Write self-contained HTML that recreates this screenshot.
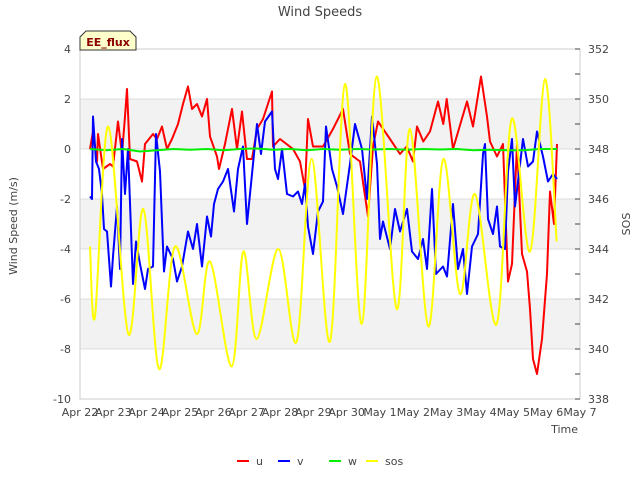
<!DOCTYPE html>
<html><head><meta charset="utf-8"><style>
body{margin:0;background:#fff;font-family:"Liberation Sans","DejaVu Sans",sans-serif;}
svg text{font-family:"DejaVu Sans","Liberation Sans",sans-serif;}
</style></head><body>
<svg id="chart" width="640" height="480" viewBox="0 0 640 480">
<rect x="0" y="0" width="640" height="480" fill="#fff"/>
<g id="bands"></g>
<g id="grid"></g>
<rect x="80" y="49" width="500" height="350" fill="none" stroke="#ccc" stroke-width="1"/>
<g id="axes"></g>
<g id="series"></g>
<text x="320" y="16" text-anchor="middle" font-size="13" fill="#444">Wind Speeds</text>
<text x="17" y="226" text-anchor="middle" font-size="11" fill="#444" transform="rotate(-90 17 226)">Wind Speed (m/s)</text>
<text x="630" y="224" text-anchor="middle" font-size="11" fill="#444" transform="rotate(-90 630 224)">SOS</text>
<text x="578" y="433" text-anchor="end" font-size="11" fill="#444">Time</text>
<g>
<path d="M80,50 L80,37 L86,31 L130,31 L136,37 L136,50 Z" fill="#ffffcc" stroke="#333" stroke-width="1"/>
<text x="108" y="46" text-anchor="middle" font-size="11" font-weight="bold" fill="#8b0000">EE_flux</text>
</g>
<g id="legend"></g>
</svg>
<script>
const NS="http://www.w3.org/2000/svg";
const svg=document.getElementById('chart');
// ---- data ----
const xTickLabels=["Apr 22","Apr 23","Apr 24","Apr 25","Apr 26","Apr 27","Apr 28","Apr 29","Apr 30","May 1","May 2","May 3","May 4","May 5","May 6","May 7"];
const yTicks=[4,2,0,-2,-4,-6,-8,-10];
const y2Ticks=[352,350,348,346,344,342,340,338];
const uT=[0.3,0.39,0.51,0.54,0.69,0.9,0.99,1.14,1.26,1.35,1.41,1.5,1.71,1.86,1.95,2.19,2.31,2.46,2.61,2.76,2.94,3.09,3.24,3.36,3.51,3.66,3.81,3.9,4.11,4.17,4.35,4.56,4.71,4.86,5.01,5.16,5.31,5.49,5.76,5.79,6.0,6.39,6.6,6.75,6.84,6.99,7.29,7.59,7.89,8.1,8.4,8.64,8.79,8.94,9.3,9.6,9.8,9.99,10.11,10.3,10.5,10.74,10.9,11.0,11.19,11.61,11.79,12.03,12.21,12.3,12.51,12.69,12.84,12.96,13.11,13.26,13.41,13.5,13.59,13.71,13.86,14.01,14.1,14.22,14.31];
const uV=[0,0.7,-0.5,0.6,-0.8,-0.6,-0.7,1.1,-0.2,1.3,2.4,-0.4,-0.5,-1.3,0.2,0.6,0.4,0.9,0,0.4,1.0,1.8,2.5,1.6,1.8,1.3,2.0,0.5,-0.3,-0.8,0.2,1.6,0,1.5,-0.4,-0.4,0.8,1.2,2.3,0.1,0.4,0,-0.5,-1.6,1.2,0.1,0.1,0.8,1.6,-0.2,-0.5,-2.7,0.1,1.1,0.4,-0.2,0.1,-0.5,0.9,0.3,0.7,1.9,1.0,2.0,0,1.9,0.9,2.9,1.3,0.3,-0.3,0.2,-5.3,-4.6,0.2,-4.2,-4.9,-6.4,-8.4,-9.0,-7.6,-5.0,-1.7,-3.0,0.2];
const vT=[0.3,0.36,0.39,0.48,0.57,0.66,0.72,0.81,0.93,0.99,1.11,1.2,1.26,1.35,1.44,1.59,1.68,1.8,1.95,2.04,2.19,2.28,2.4,2.52,2.61,2.79,2.91,3.06,3.24,3.39,3.51,3.66,3.81,3.93,4.02,4.14,4.29,4.44,4.62,4.74,4.89,5.01,5.13,5.31,5.43,5.55,5.76,5.85,5.94,6.06,6.21,6.39,6.54,6.66,6.75,6.84,6.99,7.14,7.29,7.38,7.56,7.71,7.89,8.1,8.25,8.46,8.61,8.76,8.91,9.0,9.09,9.3,9.45,9.6,9.81,9.96,10.14,10.29,10.41,10.56,10.68,10.89,11.01,11.19,11.34,11.49,11.61,11.76,11.94,12.09,12.15,12.24,12.39,12.51,12.6,12.75,12.84,12.96,13.05,13.14,13.29,13.44,13.59,13.71,13.89,14.04,14.19,14.31];
const vV=[-1.9,-2.0,1.3,-0.5,-0.8,-1.8,-3.2,-3.3,-5.5,-4.3,-2.3,-4.8,0.4,-1.8,0,-5.4,-3.7,-4.6,-5.6,-4.8,-4.7,0.6,-0.9,-4.9,-3.9,-4.4,-5.3,-4.7,-3.3,-4.0,-3.0,-4.7,-2.7,-3.5,-2.2,-1.6,-1.3,-0.8,-2.5,-0.8,0.1,-3.0,-1.4,1.0,-0.2,1.1,1.5,-0.8,-1.2,0,-1.8,-1.9,-1.7,-2.2,-1.4,-3.1,-4.2,-2.5,-2.1,0.9,-0.8,-1.5,-2.6,-0.6,1.0,0,-2.0,1.3,-0.6,-3.6,-2.9,-4.0,-2.4,-3.3,-2.4,-4.1,-4.4,-3.6,-4.8,-1.6,-5.0,-4.7,-5.1,-2.2,-4.8,-4.0,-5.8,-3.9,-3.4,-0.2,0.2,-2.8,-3.4,-2.3,-3.9,-4.0,-0.9,0.4,-2.3,-1.3,0.4,-0.7,-0.5,0.7,-0.3,-1.3,-1.0,-1.2];
const wT=[0.3,0.8,1.3,1.8,2.3,2.8,3.3,3.8,4.3,4.8,5.3,5.8,6.3,6.8,7.3,7.8,8.3,8.8,9.3,9.8,10.3,10.8,11.3,11.8,12.3,12.8,13.3,13.8,14.31];
const wV=[0.0,-0.05,0.0,-0.1,-0.05,0.0,-0.03,0.0,-0.05,0.0,0.02,-0.03,0.0,-0.05,0.0,-0.03,0.0,-0.02,0.0,-0.03,0.0,-0.02,0.0,-0.05,-0.03,-0.05,-0.05,0.0,0.0];
const sosT=[0.3,0.45,0.85,1.45,1.9,2.37,2.85,3.5,3.9,4.55,4.9,5.3,5.95,6.5,6.95,7.5,7.95,8.45,8.9,9.5,9.9,10.45,10.9,11.4,11.85,12.5,12.95,13.5,13.95,14.3];
const sosV=[344.1,341.3,348.9,340.6,345.6,339.2,344.1,340.6,343.5,339.3,343.9,340.4,344.0,340.3,347.6,340.3,350.6,341.0,350.9,341.6,348.8,340.9,347.6,342.2,346.2,341.0,349.2,343.9,350.8,344.3];
// ---- scales ----
const X0=80,PW=500,Y0=49,PH=350;
const xs=d=>X0+d*PW/15;
const ys=v=>Y0+(4-v)*PH/14;
const ys2=v=>Y0+(352-v)*PH/14;
function el(tag,attrs,parent){const e=document.createElementNS(NS,tag);for(const k in attrs)e.setAttribute(k,attrs[k]);parent.appendChild(e);return e;}
// bands & grid
const bands=document.getElementById('bands'),grid=document.getElementById('grid'),axes=document.getElementById('axes');
[[2,0],[-2,-4],[-6,-8]].forEach(b=>{
 const r=el('rect',{x:X0,y:ys(b[0]),width:PW,height:ys(b[1])-ys(b[0]),fill:'#f2f2f2'},bands);
 
 
});
yTicks.forEach(v=>{
 const l=el('line',{x1:X0,x2:X0+PW,y1:ys(v),y2:ys(v),stroke:'#dcdcdc','stroke-width':1},grid);
 
 
 const t=el('text',{x:X0-9,y:ys(v)+4,'text-anchor':'end','font-size':11,fill:'#444'},axes);
 t.textContent=v;
 
 
});
for(let v=338;v<=352;v++){
 const l=el('line',{x1:X0+PW-5,x2:X0+PW,y1:ys2(v),y2:ys2(v),stroke:'#444','stroke-width':1},axes);
 
 
}
y2Ticks.forEach(v=>{
 const t=el('text',{x:X0+PW+8,y:ys2(v)+4,'font-size':11,fill:'#444'},axes);
 t.textContent=v;
 
 
});
xTickLabels.forEach((s,i)=>{
 const t=el('text',{x:xs(i),y:416,'text-anchor':'middle','font-size':11,fill:'#444'},axes);
 t.textContent=s;
 
 
});
// series
const sg=document.getElementById('series');
function linePath(T,V,sy){return T.map((t,i)=>(i?'L':'M')+xs(t).toFixed(1)+','+sy(V[i]).toFixed(1)).join(' ');}
function smoothPath(T,V,sy){
 const p=T.map((t,i)=>[xs(t),sy(V[i])]);let d='M'+p[0][0]+','+p[0][1];
 for(let i=0;i<p.length-1;i++){const a=p[Math.max(0,i-1)],b=p[i],c=p[i+1],e=p[Math.min(p.length-1,i+2)];
  d+=' C'+(b[0]+(c[0]-a[0])/6)+','+(b[1]+(c[1]-a[1])/6)+' '+(c[0]-(e[0]-b[0])/6)+','+(c[1]-(e[1]-b[1])/6)+' '+c[0]+','+c[1];}
 return d;}
const pu=el('path',{d:linePath(uT,uV,ys),fill:'none',stroke:'#ff0000','stroke-width':2,'stroke-linejoin':'round'},sg);


const pv=el('path',{d:linePath(vT,vV,ys),fill:'none',stroke:'#0000ff','stroke-width':2,'stroke-linejoin':'round'},sg);


const pw=el('path',{d:linePath(wT,wV,ys),fill:'none',stroke:'#00ee00','stroke-width':2},sg);


const ps=el('path',{d:smoothPath(sosT,sosV,ys2),fill:'none',stroke:'#ffff00','stroke-width':2},sg);


// legend
const lg=document.getElementById('legend');
[['u','#ff0000',237],['v','#0000ff',278],['w','#00ee00',329],['sos','#ffff00',366]].forEach(e=>{
 const g=el('g',{},lg);
 
 
 el('line',{x1:e[2],x2:e[2]+12,y1:461,y2:461,stroke:e[1],'stroke-width':2},g);
 const t=el('text',{x:e[2]+19,y:465,'font-size':11,fill:'#444'},g);
 t.textContent=e[0];
});
</script>
</body></html>
